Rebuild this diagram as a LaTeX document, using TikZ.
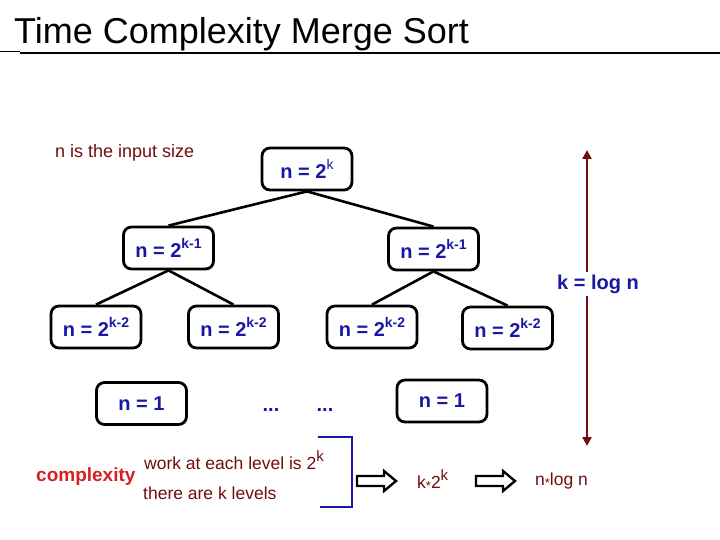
\documentclass[tikz,border=0pt]{standalone}
\usepackage{fontspec}
\setmainfont{Liberation Sans}
\usepackage{tikz}
\usetikzlibrary{arrows.meta,
                positioning
                }
\definecolor{nblue}{RGB}{24,24,164}
\definecolor{maroon}{RGB}{110,14,14}
\definecolor{cred}{RGB}{212,32,32}
\tikzset{
    sizebox/.style={draw=black, line width=2.8pt, rounded corners=8pt,
        minimum width=90pt, minimum height=42pt, inner sep=0pt,
        text=nblue, font=\fontsize{20}{20}\selectfont\bfseries},
    branch/.style={line width=2.6pt},
    note/.style={text=maroon, inner sep=0pt, font=\fontsize{17.5}{17.5}\selectfont}
}
\newcommand{\sz}[1]{n = 2\raisebox{9pt}{\fontsize{14}{14}\selectfont #1}}
\newcommand{\tms}{\raisebox{-2pt}{\fontsize{13}{13}\selectfont *}}

\begin{document}
\begin{tikzpicture}[x=1pt, y=-1pt]
            \useasboundingbox (0,0) rectangle (720,540);

            %title
            \node[anchor=base west, inner sep=0pt, font=\fontsize{36}{36}\selectfont] (title) at (14,44) {Time Complexity Merge Sort};
            \draw[line width=2.8pt] (20,53) -- (720,53);
            \draw[line width=1pt] (0,52) -- (20,52);

            %input size note
            \node[note, anchor=base west, font=\fontsize{18}{18}\selectfont] (input) at (55,158) {n is the input size};

            %tree nodes
            \node[sizebox] (root) at (307,169) {\sz{\mdseries k}};
            \node[sizebox] (la) at (168.5,248) {\sz{k-1}};
            \node[sizebox] (lb) at (433.5,249) {\sz{k-1}};
            \node[sizebox] (ma) at (96,327) {\sz{k-2}};
            \node[sizebox] (mb) at (233.5,327) {\sz{k-2}};
            \node[sizebox] (mc) at (372,327) {\sz{k-2}};
            \node[sizebox] (md) at (507.5,328) {\sz{k-2}};
            \node[sizebox] (oa) at (141.5,403.5) {n = 1};
            \node[sizebox] (ob) at (442,401) {n = 1};
            \node[text=nblue, font=\bfseries\fontsize{20}{20}\selectfont] (dota) at (271,410) {...};
            \node[text=nblue, font=\bfseries\fontsize{20}{20}\selectfont] (dotb) at (325,410) {...};

            %branches
            \draw[branch] (root.south) -- (la.north);
            \draw[branch] (root.south) -- (lb.north);
            \draw[branch] (la.south) -- (ma.north);
            \draw[branch] (la.south) -- (mb.north);
            \draw[branch] (lb.south) -- (mc.north);
            \draw[branch] (lb.south) -- (md.north);

            %depth arrow
            \coordinate (htop) at (587,150);
            \coordinate (hbot) at (587,446);
            \draw[maroon, line width=2.8pt, {Triangle[length=9pt,width=9pt]}-{Triangle[length=9pt,width=9pt]}] (htop) -- (hbot);
            \node[fill=white, text=nblue, inner sep=3pt, font=\bfseries\fontsize{20}{20}\selectfont] (depth) at (598,284) {k = log n};

            %complexity
            \node[anchor=west, inner sep=0pt, text=cred, font=\bfseries\fontsize{19}{19}\selectfont] (cplx) at (36,477) {complexity};
            \node[note, anchor=base west] (work) at (144,469) {work at each level is 2\raisebox{8pt}{\fontsize{15}{15}\selectfont k}};
            \node[note, anchor=base west] (levels) at (143,499) {there are k levels};
            \draw[nblue, line width=2.8pt] (318,437) -- (352,437) -- (352,507) -- (320,507);

            %hollow arrows
            \foreach \ax in {357,476}
                \draw[line width=2.4pt] (\ax,476) -- (\ax+27,476) -- (\ax+27,471) -- (\ax+39,481)
                    -- (\ax+27,491) -- (\ax+27,486) -- (\ax,486) -- cycle;

            \node[note, anchor=base west] (kk) at (417,488) {k\tms2\raisebox{8pt}{\fontsize{15}{15}\selectfont k}};
            \node[note, anchor=base west] (nlog) at (535,485) {n\tms log n};
\end{tikzpicture}
\end{document}
